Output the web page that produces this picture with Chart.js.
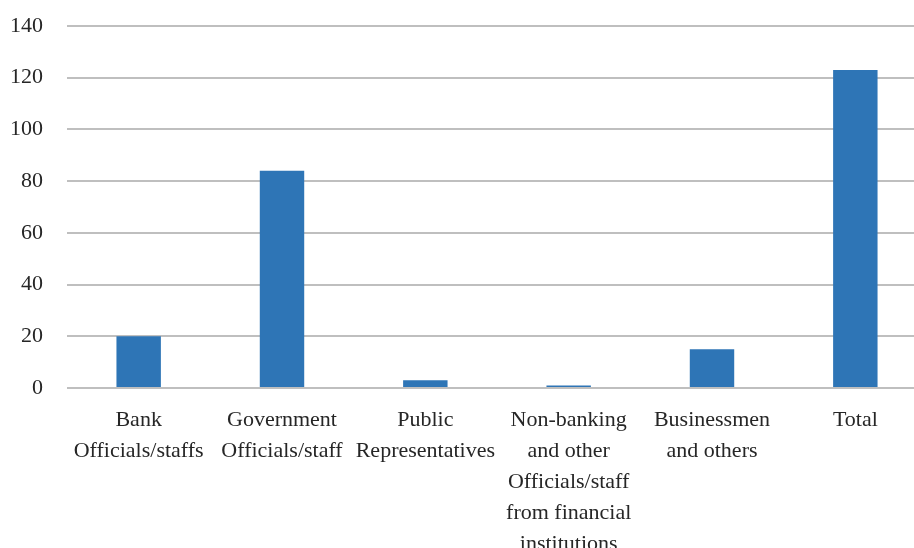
<!DOCTYPE html>
<html>
<head>
<meta charset="utf-8">
<script src="https://cdn.jsdelivr.net/npm/chart.js@4.4.0/dist/chart.umd.min.js"></script>
<style>
  html, body { margin: 0; padding: 0; background: #fff; overflow: hidden; }
  #wrap { width: 914px; height: 548px; overflow: hidden; }
</style>
</head>
<body>
<div id="wrap">
  <canvas id="myChart" width="927" height="548"></canvas>
</div>
<script>
// categories (multi-line labels) and counts
const categories = [
    ["Bank", "Officials/staffs"],
    ["Government", "Officials/staff"],
    ["Public", "Representatives"],
    ["Non-banking", "and other", "Officials/staff", "from financial", "institutions"],
    ["Businessmen", "and others"],
    ["Total"]
];
const counts = [20, 84, 3, 1, 15, 123];
const yTicks = [0, 20, 40, 60, 80, 100, 120, 140];

const fontFamily = "'Liberation Serif', 'DejaVu Serif', serif";
const textColor = "#262626";

const ctx = document.getElementById("myChart").getContext("2d");

new Chart(ctx, {
    type: "bar",
    data: {
        labels: categories,
        datasets: [
            {
                data: counts,
                backgroundColor: "#2e75b6",
                borderWidth: 0,
                categoryPercentage: 1,
                barPercentage: 0.31
            }
        ]
    },
    options: {
        responsive: false,
        animation: false,
        layout: { padding: { top: 26, right: 0, left: 0, bottom: 0 } },
        plugins: {
            legend: { display: false },
            tooltip: { enabled: false }
        },
        scales: {
            x: {
                grid: { display: false, drawTicks: false },
                border: { display: false },
                ticks: {
                    color: textColor,
                    padding: 17,
                    maxRotation: 0,
                    autoSkip: false,
                    font: { family: fontFamily, size: 22, lineHeight: 1.41 }
                },
                afterFit: (scale) => {
                    scale.height = 160;
                    scale.paddingLeft = 0;
                    scale.paddingRight = 0;
                }
            },
            y: {
                min: 0,
                max: 140,
                afterBuildTicks: (scale) => {
                    scale.ticks = yTicks.map(v => ({ value: v }));
                },
                grid: { color: "#bfbfbf", lineWidth: 2, drawTicks: false },
                border: { display: false },
                ticks: {
                    color: textColor,
                    padding: 24,
                    font: { family: fontFamily, size: 22 }
                },
                afterFit: (scale) => {
                    scale.width = 67;
                    scale.paddingTop = 0;
                    scale.paddingBottom = 0;
                }
            }
        }
    }
});
</script>
</body>
</html>
